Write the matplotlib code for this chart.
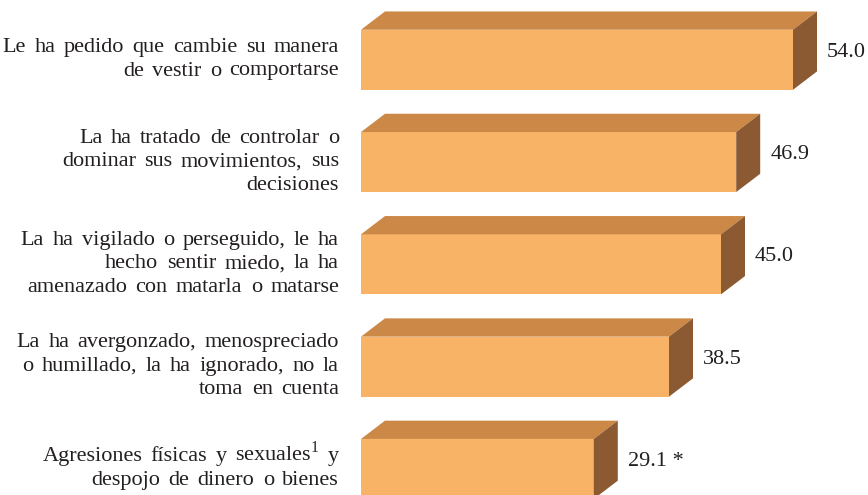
import matplotlib
matplotlib.use("Agg")
import matplotlib.pyplot as plt
from matplotlib.patches import Polygon
import numpy as np

categories = [
    ["Le ha pedido que cambie su manera", "de vestir o comportarse"],
    ["La ha tratado de controlar o", "dominar sus movimientos, sus", "decisiones"],
    ["La ha vigilado o perseguido, le ha", "hecho sentir miedo, la ha", "amenazado con matarla o matarse"],
    ["La ha avergonzado, menospreciado", "o humillado, la ha ignorado, no la", "toma en cuenta"],
    ["Agresiones físicas y sexuales$^{\\mathregular{1}}$ y", "despojo de dinero o bienes"],
]
values = [54.0, 46.9, 45.0, 38.5, 29.1]
value_labels = ["54.0", "46.9", "45.0", "38.5", "29.1 *"]

FRONT = "#F9B366"
TOP = "#CC8847"
SIDE = "#8B5A32"

W, H = 868, 495
fig = plt.figure(figsize=(W / 100, H / 100), dpi=100)
ax = fig.add_axes([361 / W, 0, (W - 361) / W, 1])
pxx = 8.0       # pixels per value unit
pxy = 102.3     # pixels per category
ax.set_xlim(0, (W - 361) / pxx)
y0 = 59.75
ax.set_ylim((H - y0) / pxy, -y0 / pxy)
ax.axis("off")

bh = 60 / pxy
dx = 24 / pxx
dy = 18.3 / pxy
ypos = np.arange(len(values))

ax.barh(ypos, values, height=bh, color=FRONT, edgecolor="none", zorder=2)
for y, v in zip(ypos, values):
    top = y - bh / 2
    bot = y + bh / 2
    ax.add_patch(Polygon([(0, top), (dx, top - dy), (v + dx, top - dy), (v, top)],
                         closed=True, facecolor=TOP, edgecolor="none", zorder=2))
    ax.add_patch(Polygon([(v, top), (v + dx, top - dy), (v + dx, bot - dy), (v, bot)],
                         closed=True, facecolor=SIDE, edgecolor="none", zorder=2))

font = dict(family="Liberation Serif", fontsize=16, color="#231F20")
renderer = fig.canvas.get_renderer()
space_px = 16 * 100 / 72 * 0.25
extra_px = 2.8
line_px = 23.5
right_px = -22
for y, lines in zip(ypos, categories):
    n = len(lines)
    for k, line in enumerate(lines):
        off = (4 + (k - (n - 1) / 2) * line_px) / pxy
        xp = right_px
        for word in reversed(line.split(" ")):
            t = ax.text(xp / pxx, y + off, word, ha="right", va="baseline",
                        clip_on=False, **font)
            wpx = t.get_window_extent(renderer).width
            xp -= wpx + space_px + extra_px

for y, v, lab in zip(ypos, values, value_labels):
    ax.text(v + dx + 10 / pxx, y - 3 / pxy, lab, ha="left", va="baseline",
            clip_on=False, **font)

fig.savefig("out.png", dpi=100)
